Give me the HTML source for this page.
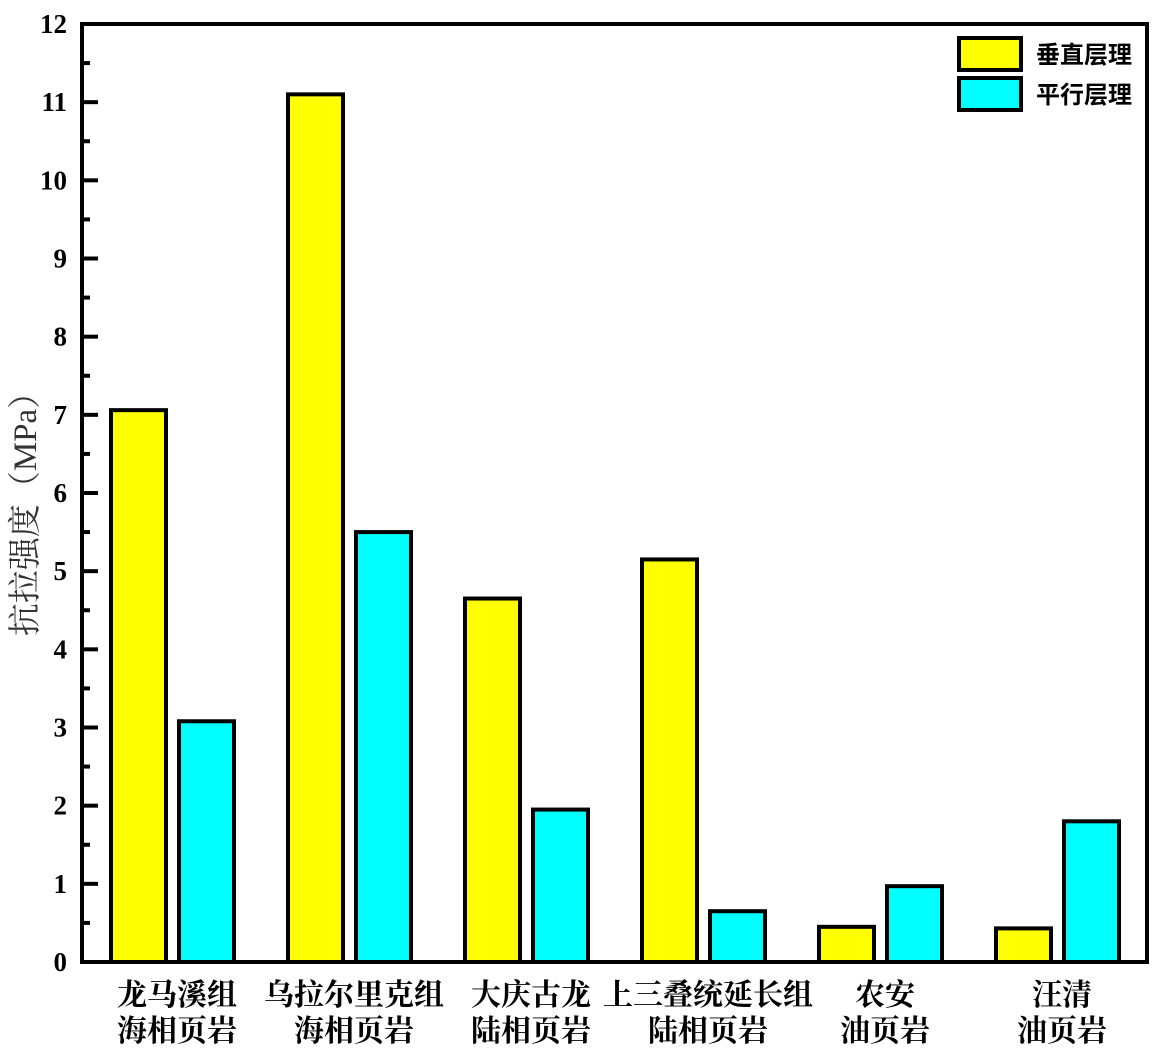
<!DOCTYPE html>
<html><head><meta charset="utf-8"><style>
body{margin:0;background:#fff}
svg{display:block}
.t{font-family:"Liberation Serif","Noto Serif CJK SC",serif;font-weight:bold;font-size:27px}
.c{font-family:"Liberation Serif","Noto Serif CJK SC",serif;font-size:30px;font-weight:bold}
</style></head><body>
<svg id="chart" width="1157" height="1049" viewBox="0 0 1157 1049"></svg>
<script>
const categories1=["龙马溪组","乌拉尔里克组","大庆古龙","上三叠统延长组","农安","汪清"];
const categories2=["海相页岩","海相页岩","陆相页岩","陆相页岩","油页岩","油页岩"];
const verticalValues=[7.06,11.1,4.65,5.15,0.45,0.43];
const parallelValues=[3.08,5.5,1.95,0.65,0.97,1.8];
const yTicks=[0,1,2,3,4,5,6,7,8,9,10,11,12];
const NS="http://www.w3.org/2000/svg";
const svg=document.getElementById('chart');
const L=82,R=1147,T=24,B=962,yMax=12;
const y=v=>B-(B-T)*v/yMax;
const groupW=177,g0=172;
const xc=i=>g0+i*groupW;
function mk(tag,attrs,parent){const e=document.createElementNS(NS,tag);for(const k in attrs)e.setAttribute(k,attrs[k]);(parent||svg).appendChild(e);return e;}
verticalValues.forEach((v,i)=>{
 const r=mk('rect',{x:xc(i)-61,y:y(v),width:55,height:B-y(v),fill:'#ffff00',stroke:'#000','stroke-width':4});
 
 
});
parallelValues.forEach((v,i)=>{
 const r=mk('rect',{x:xc(i)+7,y:y(v),width:55,height:B-y(v),fill:'#00ffff',stroke:'#000','stroke-width':4});
 
 
});
const f=mk('rect',{x:L,y:T,width:R-L,height:B-T,fill:'none',stroke:'#000','stroke-width':4});


yTicks.forEach(v=>{
 mk('line',{x1:L,x2:L+16,y1:y(v),y2:y(v),stroke:'#000','stroke-width':4});
 if(v<yMax) mk('line',{x1:L,x2:L+8,y1:y(v+0.5),y2:y(v+0.5),stroke:'#000','stroke-width':4});
 const t=mk('text',{x:67,y:y(v)+9,'text-anchor':'end',class:'t'});
 t.textContent=v;
 
 
});
categories1.forEach((c,i)=>{
 const t=mk('text',{x:xc(i)+5,y:1005,'text-anchor':'middle',class:'c'});t.textContent=c;
 
 
 const t2=mk('text',{x:xc(i)+5,y:1041,'text-anchor':'middle',class:'c'});t2.textContent=categories2[i];
 
 
});
const yt=mk('text',{x:0,y:0,transform:'translate(36,506) rotate(-90)','text-anchor':'middle',style:'font-family:"Liberation Serif","Noto Serif CJK SC",serif;font-size:33px;fill:#333'});
yt.textContent='抗拉强度（MPa）';


[['#ffff00','垂直层理',38],['#00ffff','平行层理',78]].forEach((d,i)=>{
 const r=mk('rect',{x:959,y:d[2],width:62,height:32,fill:d[0],stroke:'#000','stroke-width':4});
 
 
 const t=mk('text',{x:1036,y:d[2]+25,style:'font-family:"Liberation Sans","Noto Sans CJK SC",sans-serif;font-size:24px;font-weight:bold'});
 t.textContent=d[1];
 
 
});
</script>
</body></html>
